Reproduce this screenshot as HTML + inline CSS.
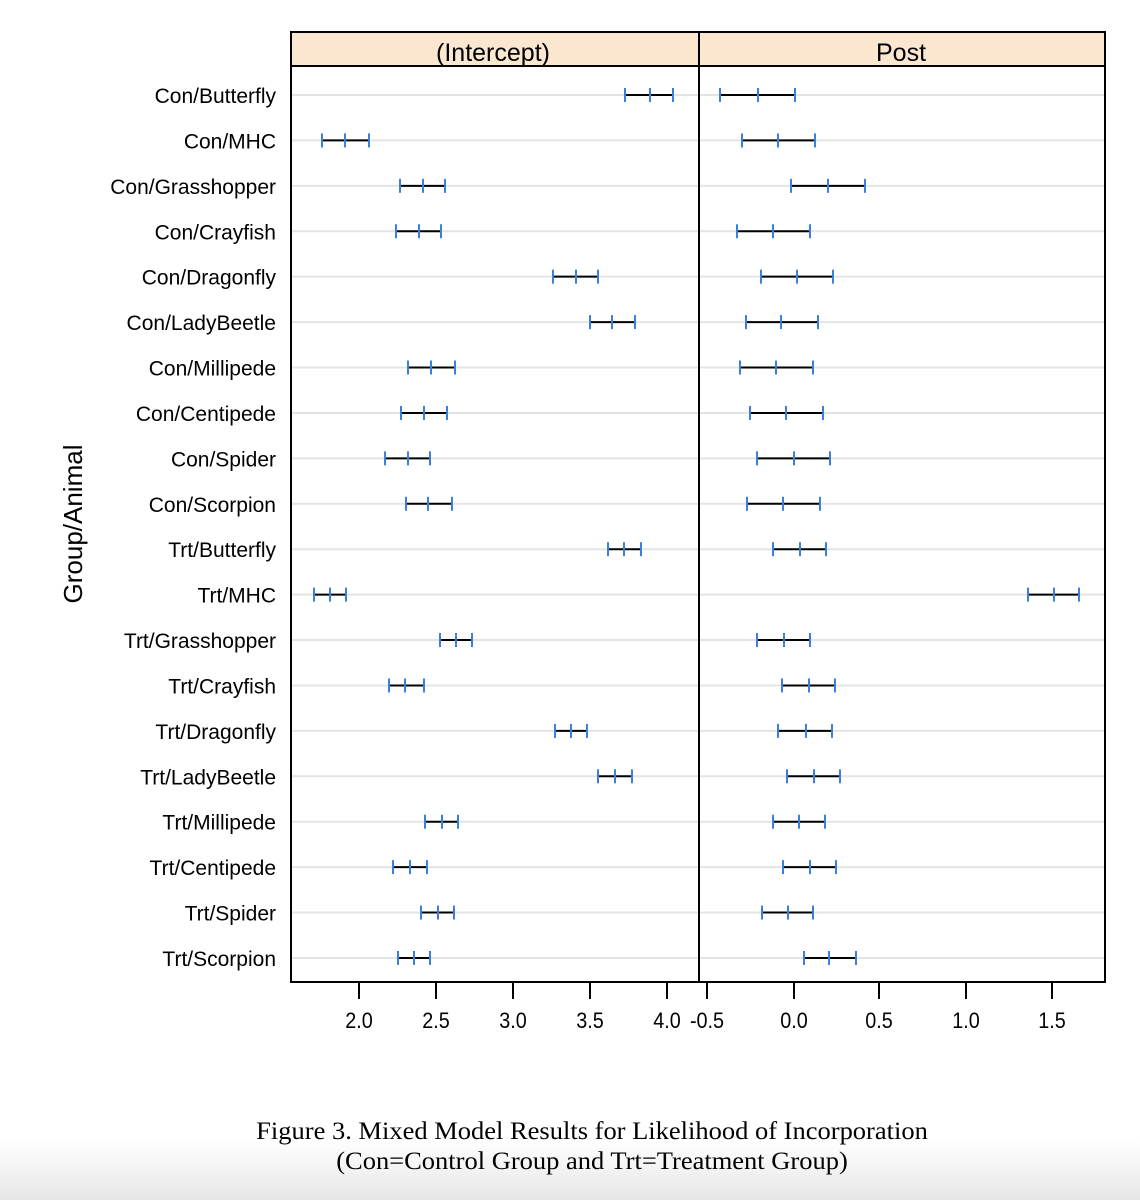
<!DOCTYPE html>
<html><head><style>body{margin:0;background:#fff}svg{display:block}</style></head><body>
<svg width="1140" height="1200" xmlns="http://www.w3.org/2000/svg">
<defs><linearGradient id="g" x1="0" y1="0" x2="0" y2="1"><stop offset="0" stop-color="#fff"/><stop offset="1" stop-color="#e6e6e6"/></linearGradient></defs>
<rect x="0" y="1140" width="1140" height="60" fill="url(#g)"/>
<rect x="291" y="32" width="814" height="34" fill="#fbe6cf"/>
<g id="rows"></g>
<rect x="291" y="32" width="814" height="950" fill="none" stroke="#000" stroke-width="2"/>
<line x1="291" y1="66" x2="1105" y2="66" stroke="#000" stroke-width="2"/>
<line x1="699" y1="32" x2="699" y2="982" stroke="#000" stroke-width="2"/>
<g font-family="Liberation Sans, sans-serif" font-size="25" text-anchor="middle">
<text transform="translate(493,61) scale(1,1)">(Intercept)</text>
<text transform="translate(901,61) scale(1,1)">Post</text>
</g>
<g stroke="#000" stroke-width="2">
<line x1="359" y1="982" x2="359" y2="999"/><line x1="436" y1="982" x2="436" y2="999"/><line x1="513" y1="982" x2="513" y2="999"/><line x1="590" y1="982" x2="590" y2="999"/><line x1="667" y1="982" x2="667" y2="999"/>
<line x1="707" y1="982" x2="707" y2="999"/><line x1="794" y1="982" x2="794" y2="999"/><line x1="879" y1="982" x2="879" y2="999"/><line x1="966" y1="982" x2="966" y2="999"/><line x1="1052" y1="982" x2="1052" y2="999"/>
</g>
<g font-family="Liberation Sans, sans-serif" font-size="22" text-anchor="middle">
<text transform="translate(359,1028) scale(0.9,1)">2.0</text>
<text transform="translate(436,1028) scale(0.9,1)">2.5</text>
<text transform="translate(513,1028) scale(0.9,1)">3.0</text>
<text transform="translate(590,1028) scale(0.9,1)">3.5</text>
<text transform="translate(667,1028) scale(0.9,1)">4.0</text>
<text transform="translate(707,1028) scale(0.9,1)">-0.5</text>
<text transform="translate(794,1028) scale(0.9,1)">0.0</text>
<text transform="translate(879,1028) scale(0.9,1)">0.5</text>
<text transform="translate(966,1028) scale(0.9,1)">1.0</text>
<text transform="translate(1052,1028) scale(0.9,1)">1.5</text>
</g>
<text transform="translate(82,524) rotate(-90)" font-family="Liberation Sans, sans-serif" font-size="26" text-anchor="middle">Group/Animal</text>
<g id="labels" font-family="Liberation Sans, sans-serif" font-size="21" text-anchor="end"></g>
<g font-family="Liberation Serif, serif" font-size="25" text-anchor="middle">
<text transform="translate(592,1139) scale(1.06,1)">Figure 3. Mixed Model Results for Likelihood of Incorporation</text>
<text transform="translate(592,1169) scale(1.06,1)">(Con=Control Group and Trt=Treatment Group)</text>
</g>
<script>
var names=["Con/Butterfly","Con/MHC","Con/Grasshopper","Con/Crayfish","Con/Dragonfly","Con/LadyBeetle","Con/Millipede","Con/Centipede","Con/Spider","Con/Scorpion","Trt/Butterfly","Trt/MHC","Trt/Grasshopper","Trt/Crayfish","Trt/Dragonfly","Trt/LadyBeetle","Trt/Millipede","Trt/Centipede","Trt/Spider","Trt/Scorpion"];
var d=[[625,650,673,720,758,795],[322,345,369,742,778,815],[400,423,445,791,828,865],[396,419,441,737,773,810],[553,576,598,761,797,833],[590,612,635,746,781,818],[408,431,455,740,776,813],[401,424,447,750,786,823],[385,408,430,757,794,830],[406,428,452,747,783,820],[608,624,641,773,800,826],[314,330,346,1028,1054,1079],[440,456,472,757,784,810],[389,405,424,782,809,835],[555,571,587,778,806,832],[598,615,632,787,814,840],[425,442,458,773,799,825],[393,410,427,783,810,836],[421,438,454,762,788,813],[398,414,430,804,829,856]];
var ns="http://www.w3.org/2000/svg",R=document.getElementById("rows"),L=document.getElementById("labels");
function ln(x1,y1,x2,y2,c,w){var e=document.createElementNS(ns,"line");e.setAttribute("x1",x1);e.setAttribute("y1",y1);e.setAttribute("x2",x2);e.setAttribute("y2",y2);e.setAttribute("stroke",c);e.setAttribute("stroke-width",w);R.appendChild(e);}
for(var i=0;i<20;i++){var y=95+i*45.42;
ln(292,y,1104,y,"#e4e4e4",2);
var r=d[i];
[[0,1,2],[3,4,5]].forEach(function(k){ln(r[k[0]],y,r[k[2]],y,"#000",2);k.forEach(function(j){ln(r[j],y-7,r[j],y+7,"#3b7fe0",2);});});
var t=document.createElementNS(ns,"text");t.setAttribute("transform","translate(276,"+(y+8)+")");t.textContent=names[i];L.appendChild(t);}
</script>
</svg>
</body></html>
